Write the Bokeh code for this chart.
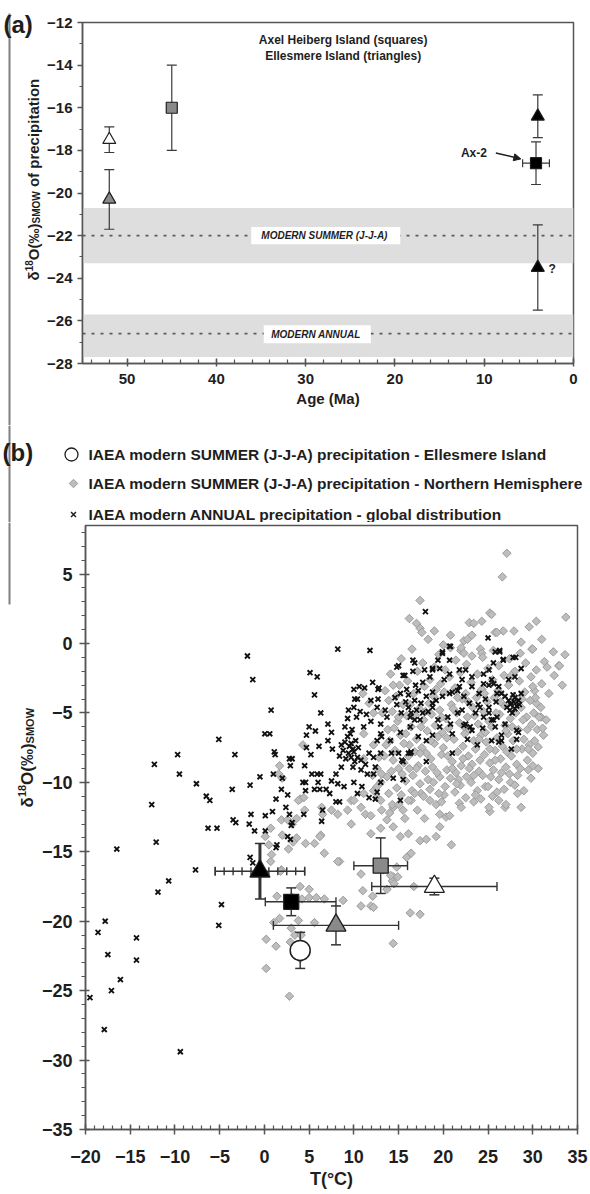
import math
from bokeh.plotting import figure
from bokeh.layouts import column, row
from bokeh.models import Range1d, FixedTicker, Label, Arrow, NormalHead, BoxAnnotation, Span
from bokeh.core.properties import value
from bokeh.embed import file_html
from bokeh.resources import INLINE

FONT = "Liberation Sans"
INK = "#1e1e1e"
AXIS = "#555555"
GREY_FILL = "#8a8a8a"
DIAMOND_FILL = "#bdbdbd"
DIAMOND_LINE = "#9c9c9c"
BAND = "#dedede"
EDGE = "#808080"

# ------------------------------------------------------------------ data (a)
a_series = ["Ellesmere open", "Ellesmere grey", "Axel Heiberg grey",
            "Ellesmere black", "Axel Heiberg Ax-2", "Ellesmere black ?"]
a_age = [52.0, 52.0, 45.0, 4.0, 4.2, 4.0]
a_d18o = [-17.5, -20.3, -16.0, -16.4, -18.6, -23.5]
a_d18o_err = [0.6, 1.4, 2.0, 1.0, 1.0, 2.0]
a_age_err = [0.0, 0.0, 0.0, 0.0, 1.5, 0.0]
modern_summer_mean = -22.0
modern_summer_range = (-23.3, -20.7)
modern_annual_mean = -26.6
modern_annual_range = (-27.7, -25.7)
a_x_ticks = [0, 10, 20, 30, 40, 50]
a_y_ticks = [-28, -26, -24, -22, -20, -18, -16, -14, -12]

# ------------------------------------------------------------------ data (b)
b_series = ["Ellesmere open", "Ellesmere grey", "Axel Heiberg grey",
            "Ellesmere black", "Axel Heiberg Ax-2"]
b_T = [19.0, 8.0, 13.0, -0.5, 3.0]
b_T_low = [12.0, 1.0, 10.0, -5.5, 0.1]
b_T_high = [26.0, 15.0, 16.0, 4.5, 8.0]
b_d18o = [-17.5, -20.3, -16.0, -16.4, -18.6]
b_d18o_err = [0.6, 1.4, 2.0, 2.0, 1.0]
b_black_tri_T_steps = [1, 2, 3, 4, 5]
ellesmere_modern_T = [4.0]
ellesmere_modern_d18o = [-22.1]
ellesmere_modern_err = [1.3]
b_x_ticks = [-20, -15, -10, -5, 0, 5, 10, 15, 20, 25, 30, 35]
b_y_ticks = [-35, -30, -25, -20, -15, -10, -5, 0, 5]

annual_cold = [
    (-19.5, -25.5), (-18.6, -20.8), (-17.8, -20.0), (-17.5, -22.4), (-17.1, -25.0),
    (-17.9, -27.8), (-16.1, -24.2), (-14.3, -21.2), (-14.3, -22.8), (-11.9, -17.9),
    (-10.7, -17.1), (-7.7, -16.3), (-9.4, -29.4), (-4.8, -18.8), (-5.1, -20.3),
    (-16.5, -14.8), (-12.1, -14.3), (-12.6, -11.6), (-12.3, -8.7), (-9.7, -8.0),
    (-9.5, -9.4), (-7.6, -10.1), (-6.5, -11.0), (-6.1, -11.3), (-6.3, -13.3),
    (-5.3, -13.3), (-5.1, -6.9), (-3.3, -8.0), (-3.6, -10.5), (-3.5, -12.7),
    (-3.2, -12.9), (-1.9, -0.9), (-1.3, -2.6), (-1.6, -10.2), (-1.5, -12.3),
    (-1.7, -13.0), (-1.1, -13.5), (-1.6, -15.4), (-1.3, -15.8), (-0.5, -9.6),
    (0.05, -6.5), (0.6, -6.5), (0.75, -4.8), (0.1, -13.5), (0.1, -12.4),
    (0.9, -12.1), (1.0, -9.4), (1.1, -7.8), (1.2, -8.0), (2.0, -9.7),
    (1.3, -11.2), (1.9, -10.5), (2.6, -10.9), (2.8, -8.3), (3.1, -8.3),
    (2.4, -11.8), (2.8, -12.3), (3.1, -12.9), (1.4, -14.5), (1.3, -14.7),
    (2.6, -13.9), (2.9, -14.1), (3.0, -13.1), (4.3, -10.0), (4.4, -12.3),
    (2.9, -8.8), (6.4, -12.8),
]
annual_mid = [
    (8.2, -0.4), (11.8, -0.5), (5.1, -2.1), (5.9, -2.4), (5.6, -3.7), (6.3, -5.0),
    (7.1, -5.8), (5.0, -6.0), (5.7, -6.3), (4.7, -6.6), (6.1, -7.4), (7.5, -6.4),
    (4.7, -7.5), (5.2, -8.0), (4.5, -8.8), (5.3, -9.4), (5.9, -9.4), (6.3, -9.4),
    (6.0, -10.0), (4.6, -10.0), (4.6, -10.6), (5.6, -10.5), (6.2, -10.5), (6.9, -10.5),
    (7.3, -10.8), (6.5, -12.0), (8.0, -11.4), (8.4, -11.4), (10.0, -3.3), (10.6, -3.1),
    (11.2, -3.2), (12.1, -2.8), (12.7, -3.3), (11.9, -4.1), (12.7, -4.0), (10.1, -4.0),
    (10.4, -4.0), (9.4, -4.8), (10.0, -4.6), (10.7, -4.9), (11.4, -5.1), (10.3, -5.3),
    (9.3, -5.4), (9.0, -6.0), (9.8, -6.2), (11.1, -6.0), (11.9, -5.6), (13.0, -6.5),
    (7.1, -7.0), (7.6, -7.6), (8.6, -7.3), (9.3, -6.7), (9.5, -7.4), (9.7, -7.2),
    (9.9, -7.6), (10.0, -7.8), (9.7, -8.2), (9.1, -8.3), (10.4, -8.2), (10.8, -8.4),
    (11.3, -8.7), (11.7, -7.9), (12.2, -8.2), (12.4, -8.9), (11.5, -9.4), (10.8, -9.1),
    (9.9, -8.9), (8.6, -8.9), (8.0, -9.4), (7.5, -9.9), (8.2, -10.1), (8.9, -10.3),
    (10.0, -10.0), (10.4, -10.8), (10.9, -10.3), (11.7, -11.1), (12.6, -10.7), (13.0, -10.0),
    (12.2, -9.4), (9.0, -7.1), (9.4, -7.9), (10.2, -7.0), (8.8, -7.7), (10.5, -7.5),
    (9.6, -6.5), (10.1, -8.5), (8.4, -8.1),
]
annual_warm = [
    (18.0, 2.3), (12.8, -3.2), (12.6, -4.6), (13.5, -4.8), (13.7, -5.3), (13.0, -5.8),
    (12.6, -7.0), (13.1, -6.7), (13.0, -7.9), (14.2, -7.9), (14.1, -7.0), (15.2, -6.4),
    (15.0, -7.9), (16.1, -7.9), (15.5, -8.5), (18.1, -8.5), (21.0, -7.9), (21.0, -6.5),
    (18.8, -6.6), (17.2, -6.7), (16.3, -6.0), (17.4, -5.5), (18.3, -4.9), (18.8, -4.6),
    (17.0, -4.8), (16.1, -4.6), (15.3, -5.0), (14.8, -4.4), (15.2, -3.6), (16.1, -3.7),
    (16.8, -4.1), (17.2, -3.4), (17.7, -2.8), (18.5, -2.4), (18.8, -1.9), (19.6, -1.8),
    (17.9, -1.9), (16.6, -1.2), (16.8, -1.4), (15.5, -2.3), (15.0, -1.6), (20.1, -2.6),
    (20.7, -2.2), (19.9, -0.6), (20.7, -0.2), (21.6, -3.4), (22.1, -2.6), (22.5, -1.9),
    (23.2, -2.4), (21.6, -5.0), (22.5, -5.8), (20.8, -5.8), (19.4, -5.5), (23.0, -6.0),
    (23.8, -7.3), (25.4, -7.0), (26.0, -5.3), (25.8, -6.0), (25.4, -5.5), (26.5, -7.0),
    (27.6, -7.6), (28.4, -6.4), (28.2, -6.9), (26.9, -3.8), (27.3, -4.1), (27.6, -4.3),
    (28.0, -4.7), (28.4, -4.1), (27.45, -4.8), (27.1, -4.6), (27.8, -3.7), (28.5, -4.4),
    (28.7, -3.6), (26.5, -3.6), (26.2, -3.1), (25.4, -2.6), (25.1, -1.9), (25.6, -1.4),
    (25.8, -0.6), (26.3, -0.6), (26.7, -1.2), (27.8, -1.0), (28.7, -1.8), (28.0, -2.4),
    (27.3, -2.6), (24.5, -2.9), (24.0, -3.6), (24.7, -4.0), (24.1, -4.6), (25.1, -5.0),
    (23.6, -5.0), (22.9, -4.3), (22.3, -3.8), (23.2, -3.1), (25.0, 0.4), (20.7, -3.6),
    (19.9, -3.8), (19.2, -4.1), (18.1, -3.8), (18.8, -3.5), (15.5, -9.8), (15.2, -11.3),
    (12.4, -11.2), (14.4, -9.7), (16.4, -7.8), (18.1, -7.0), (19.6, -6.0), (20.8, -0.2),
    (19.9, -0.7), (26.3, -0.5), (26.7, -1.15), (28.1, -1.0), (15.35, -8.4), (16.3, -7.9),
    (22.3, -5.9), (23.2, -6.25), (24.5, -2.2), (25.1, -3.0), (25.65, -2.9), (26.0, -3.6),
    (25.1, -4.6), (24.5, -5.3), (25.6, -5.5), (26.9, -5.8), (28.2, -6.25), (26.5, -6.6),
    (26.2, -7.1), (27.9, -4.2), (28.2, -4.5), (27.5, -4.4), (28.0, -3.9), (27.7, -5.0),
    (21.8, -3.1), (21.0, -3.5), (22.1, -4.8), (20.5, -5.3), (18.8, -4.3), (17.7, -5.0),
    (16.8, -5.5), (16.3, -5.3), (14.8, -1.7), (15.7, -2.3), (16.6, -2.0), (18.8, -1.8),
    (19.4, -1.2), (20.7, -1.2), (21.8, -1.9), (15.8, -4.2), (16.4, -5.0), (14.6, -3.9),
    (15.9, -3.3), (17.5, -4.3), (16.9, -3.0), (23.9, -4.4), (24.4, -6.1), (22.7, -6.9),
    (25.9, -4.2),
]

summer_nh_low = [
    (0.7, -13.3), (0.5, -14.5), (2.0, -13.8), (3.6, -14.0), (4.6, -14.4), (2.7, -14.8),
    (6.3, -13.8), (6.7, -15.1), (8.4, -15.7), (0.7, -15.7), (1.9, -16.3), (4.0, -17.5),
    (5.0, -17.7), (1.4, -18.2), (3.1, -18.3), (4.2, -18.4), (5.0, -18.3), (5.8, -18.3),
    (6.7, -18.4), (8.8, -18.5), (1.05, -20.1), (1.7, -19.8), (3.8, -19.95), (5.6, -20.1),
    (0.2, -21.3), (1.3, -21.8), (2.9, -21.5), (3.4, -21.0), (3.0, -20.5), (0.2, -23.4),
    (2.8, -25.4), (4.0, -22.7), (4.1, -21.0), (4.3, -7.3), (1.7, -8.8), (1.6, -9.4),
    (2.0, -9.7), (4.0, -11.2), (4.4, -11.1), (1.9, -12.7), (2.6, -12.7), (3.1, -13.0),
    (3.6, -12.6), (0.1, -13.9), (1.8, -16.4), (3.2, -14.3), (0.8, -15.2), (6.4, -11.8),
    (7.5, -12.0), (8.2, -12.3), (9.3, -12.0), (9.7, -11.3), (10.8, -11.8), (11.3, -12.3),
    (12.2, -10.6), (12.6, -11.1), (11.1, -6.5), (12.2, -7.3), (12.8, -8.2), (13.1, -9.4),
    (11.0, -3.6), (11.7, -4.3), (12.2, -5.0), (11.1, -8.3), (12.1, -9.5), (13.0, -10.0),
    (3.8, -11.3), (4.5, -12.0), (6.5, -12.3), (5.6, -14.4), (6.2, -13.9), (8.2, -15.7),
    (9.7, -13.0), (11.9, -12.4), (11.9, -13.7), (13.0, -13.3), (13.7, -12.7), (14.4, -13.2),
    (15.2, -13.9), (16.1, -13.7), (17.4, -14.2), (18.1, -14.1), (19.2, -13.9), (19.6, -13.2),
    (20.9, -14.5), (10.8, -16.6), (13.3, -16.3), (14.8, -16.1), (14.4, -16.8), (15.9, -15.4),
    (16.4, -15.1), (11.0, -17.8), (12.1, -18.2), (10.8, -18.9), (11.9, -18.9), (12.2, -19.0),
    (13.7, -17.7), (14.3, -17.1), (14.5, -17.3), (14.9, -16.8), (14.1, -16.7), (16.7, -17.5),
    (16.3, -19.4), (17.4, -19.5), (14.4, -21.6),
]
summer_nh_edge = [
    (10.0, -11.3), (11.1, -10.8), (12.6, -10.3), (13.1, -12.0), (14.4, -11.8), (15.5, -12.0),
    (16.4, -11.3), (17.5, -10.8), (18.5, -11.3), (19.6, -12.3), (20.1, -10.9), (21.8, -11.5),
    (23.4, -11.4), (25.2, -12.1), (24.7, -10.3), (26.2, -11.3), (27.5, -10.0), (28.7, -11.8),
    (29.8, -9.7), (29.5, -9.1), (30.6, -7.45), (30.9, -5.3), (30.4, -4.3), (30.2, -3.4),
    (31.3, -1.3), (32.9, -1.6), (33.6, -0.8), (33.3, -3.0), (29.6, 1.2), (30.4, 1.6),
    (33.7, 1.9), (28.7, 0.1), (29.9, -0.4), (25.8, 0.8), (26.7, 0.9), (22.9, 1.5),
    (23.4, 1.45), (24.3, 1.6), (25.2, 2.2), (25.4, 2.1), (17.4, 3.1), (17.0, 1.45),
    (17.4, 1.1), (17.6, 0.8), (27.1, 6.5), (26.6, 4.8), (30.0, -0.4), (33.0, -1.6),
    (22.3, 0.2), (23.2, 0.6), (24.15, -0.4), (24.3, -0.7), (26.0, 0.8), (20.0, -0.1),
    (20.8, -0.3), (21.95, -0.5), (22.3, -0.7), (25.1, -11.8), (20.3, -12.5), (30.0, -7.9),
    (31.2, -6.6), (30.6, -9.0), (28.3, -10.8), (26.9, -11.8),
]
summer_nh_core = [
    (13.5, -3.4), (13.8, -6.2), (13.4, -8.1), (13.7, -9.6), (13.9, -10.8),
    (14.1, -2.2), (14.3, -4.9), (14.0, -7.0), (14.4, -8.4), (14.2, -9.2), (14.3, -11.6),
    (14.7, -3.8), (14.9, -5.6), (14.6, -7.7), (15.0, -9.0), (14.8, -10.4),
    (15.3, -1.1), (15.5, -4.4), (15.2, -6.6), (15.6, -8.6), (15.4, -9.4), (15.3, -10.9), (15.7, -12.6),
    (16.0, -2.7), (15.9, -5.2), (16.2, -7.3), (16.1, -8.1), (15.8, -9.9), (16.1, -11.3),
    (16.5, -0.4), (16.7, -3.6), (16.4, -6.0), (16.8, -7.8), (16.6, -9.5), (16.5, -10.6),
    (17.1, -2.0), (17.3, -4.7), (17.0, -6.9), (17.2, -8.8), (17.4, -10.1), (17.1, -12.0),
    (17.7, -1.4), (17.9, -3.1), (17.8, -5.5), (17.6, -7.5), (18.0, -9.2), (17.8, -11.0),
    (18.3, 0.3), (18.5, -2.6), (18.4, -4.3), (18.2, -6.3), (18.6, -8.3), (18.3, -9.8), (18.5, -10.5),
    (19.0, -1.7), (18.9, -3.8), (19.1, -5.9), (19.0, -7.2), (18.8, -8.9), (19.2, -11.6),
    (19.5, -0.8), (19.7, -2.9), (19.6, -4.8), (19.4, -6.7), (19.8, -8.0), (19.6, -9.6), (19.5, -10.8),
    (20.2, -1.9), (20.1, -3.5), (20.3, -5.4), (20.0, -7.5), (20.4, -9.1), (20.2, -10.3),
    (20.8, 0.6), (20.7, -2.4), (20.9, -4.4), (20.6, -6.1), (21.0, -8.5), (20.8, -9.7), (20.7, -12.4),
    (21.4, -1.2), (21.3, -3.2), (21.5, -5.0), (21.2, -6.9), (21.6, -7.8), (21.4, -9.3), (21.3, -10.7),
    (22.0, -0.3), (21.9, -2.1), (22.1, -4.0), (21.8, -5.7), (22.2, -7.4), (22.0, -8.8), (21.9, -10.2),
    (22.6, -1.5), (22.5, -3.6), (22.7, -5.3), (22.4, -6.5), (22.8, -8.1), (22.6, -9.6), (22.5, -11.1),
    (23.2, -0.9), (23.1, -2.8), (23.3, -4.6), (23.0, -6.2), (23.4, -7.0), (23.2, -8.7), (23.1, -10.0),
    (23.8, -2.2), (23.7, -3.9), (23.9, -5.8), (23.6, -7.6), (24.0, -9.2), (23.8, -10.6),
    (24.4, -1.0), (24.3, -3.3), (24.5, -4.9), (24.2, -6.6), (24.6, -8.0), (24.4, -9.5),
    (25.0, -1.8), (24.9, -4.2), (25.1, -5.6), (24.8, -7.1), (25.2, -8.6), (25.0, -10.3),
    (25.6, -0.5), (25.5, -2.6), (25.7, -3.9), (25.4, -6.0), (25.8, -7.7), (25.6, -9.1), (25.5, -11.0),
    (26.2, -1.6), (26.1, -3.4), (26.3, -5.1), (26.0, -6.8), (26.4, -8.3), (26.2, -9.8),
    (26.8, -2.3), (26.7, -4.4), (26.9, -5.9), (26.6, -7.4), (27.0, -8.9), (26.8, -10.5),
    (27.4, -1.1), (27.3, -3.0), (27.5, -5.4), (27.2, -6.5), (27.6, -8.1), (27.4, -9.4),
    (28.0, -2.0), (27.9, -3.8), (28.1, -5.0), (27.8, -7.0), (28.2, -8.7), (28.0, -10.2),
    (28.6, -0.7), (28.5, -2.7), (28.7, -4.6), (28.4, -6.2), (28.8, -7.6), (28.6, -9.0),
    (29.2, -1.4), (29.1, -3.5), (29.3, -5.3), (29.0, -6.9), (29.4, -8.4),
    (29.8, -2.4), (29.7, -4.1), (29.9, -5.8), (29.6, -7.3), (30.0, -8.8),
    (30.4, -1.9), (30.3, -3.9), (30.5, -6.2), (30.2, -7.0),
    (31.0, -2.9), (30.9, -4.6), (31.1, -6.1), (31.6, -1.7), (31.5, -5.5), (32.4, -2.3),
    (13.2, -5.0), (14.5, -6.1), (15.1, -3.0), (15.8, -6.5), (16.3, -4.4), (17.0, -9.0),
    (17.5, -6.0), (18.1, -7.9), (18.7, -5.1), (19.3, -9.3), (19.9, -6.4), (20.5, -8.1),
    (21.1, -4.7), (21.7, -9.8), (22.3, -6.0), (22.9, -9.0), (23.5, -5.2), (24.1, -8.4),
    (24.7, -6.4), (25.3, -9.6), (25.9, -5.0), (26.5, -9.3), (27.1, -7.8), (27.7, -6.0),
    (28.3, -9.5), (28.9, -5.5), (29.5, -7.6), (30.1, -5.0), (24.2, -11.2), (22.0, -11.8),
    (19.8, -11.4), (17.9, -12.6), (27.0, -11.6), (29.0, -10.6),
    (13.9, -4.1), (14.4, -3.0), (15.0, -5.3), (15.6, -7.2), (16.2, -9.0), (16.9, -5.2),
    (17.4, -7.9), (18.0, -4.9), (18.6, -7.0), (19.2, -3.3), (19.8, -5.3), (20.4, -6.8),
    (21.0, -9.0), (21.6, -3.9), (22.2, -8.3), (22.8, -4.2), (23.4, -9.5), (24.0, -6.9),
    (24.6, -3.6), (25.2, -7.6), (25.8, -8.4), (26.4, -4.2), (27.0, -6.3), (27.6, -2.3),
    (28.2, -7.6), (28.8, -4.0), (29.4, -6.2), (30.0, -3.1), (30.7, -5.3), (21.5, -10.1),
    (23.6, -10.9), (26.0, -10.7), (18.9, -10.0), (16.8, -10.8), (15.0, -11.6), (14.0, -12.2),
    (13.0, -11.3), (12.6, -9.0), (13.6, -7.3), (31.8, -3.6), (32.3, -0.6), (31.0, 0.3),
    (27.9, 0.9), (22.7, 0.3), (19.0, 0.9), (16.2, 1.8),
]

legend_labels = [
    "IAEA modern SUMMER (J-J-A) precipitation - Ellesmere Island",
    "IAEA modern SUMMER (J-J-A) precipitation - Northern Hemisphere",
    "IAEA modern ANNUAL precipitation - global distribution",
]

annual_pts = annual_cold + annual_mid + annual_warm
summer_pts = summer_nh_low + summer_nh_edge + summer_nh_core
annual_T = [p[0] for p in annual_pts]
annual_d18o = [p[1] for p in annual_pts]
summer_nh_T = [p[0] for p in summer_pts]
summer_nh_d18o = [p[1] for p in summer_pts]

STYLE = {
    "Ellesmere open": ("triangle", "white"),
    "Ellesmere grey": ("triangle", GREY_FILL),
    "Axel Heiberg grey": ("square", GREY_FILL),
    "Ellesmere black": ("triangle", "black"),
    "Axel Heiberg Ax-2": ("square", "black"),
    "Ellesmere black ?": ("triangle", "black"),
}


def style_axes(p, tick_px):
    for ax in (p.xaxis[0], p.yaxis[0]):
        ax.axis_line_color = AXIS
        ax.axis_line_width = 1.5
        ax.major_tick_line_color = AXIS
        ax.major_tick_line_width = 1.5
        ax.minor_tick_line_color = AXIS
        ax.minor_tick_line_width = 1.2
        ax.major_label_text_font = FONT
        ax.major_label_text_font_style = "bold"
        ax.major_label_text_font_size = tick_px
        ax.major_label_text_color = INK
        ax.axis_label_text_font = FONT
        ax.axis_label_text_font_style = "bold"
        ax.axis_label_text_color = INK
    p.grid.visible = False
    p.outline_line_color = AXIS
    p.outline_line_width = 1.5
    p.background_fill_color = "white"
    p.border_fill_color = "white"


def strip(w, h):
    s = figure(width=w, height=h, x_range=Range1d(0, w), y_range=Range1d(0, h),
               x_axis_type=None, y_axis_type=None, output_backend="svg",
               toolbar_location=None, min_border=0, frame_align=False)
    s.outline_line_color = None
    s.grid.visible = False
    s.background_fill_color = "white"
    s.border_fill_color = "white"
    return s


def rotated(s, xs, ys, texts, size):
    s.text(x=xs, y=ys, text=texts, angle=math.pi / 2, text_font=value(FONT),
           text_font_style="bold", text_font_size=size, text_color=INK,
           text_align="left", text_baseline="alphabetic")


# ================================================================== panel (a)
p1 = figure(width=546, height=425, x_range=Range1d(55, 0), y_range=Range1d(-28, -12),
            output_backend="svg", toolbar_location=None, frame_align=False,
            min_border_left=34, min_border_right=17, min_border_top=22, min_border_bottom=62)
style_axes(p1, "15px")
p1.xaxis.ticker = FixedTicker(ticks=a_x_ticks, minor_ticks=list(range(0, 56, 2)))
p1.yaxis.ticker = FixedTicker(ticks=a_y_ticks, minor_ticks=list(range(-28, -11)))
p1.xaxis.major_tick_in = 5
p1.xaxis.major_tick_out = 3
p1.xaxis.minor_tick_in = 4
p1.xaxis.minor_tick_out = 0
p1.xaxis.major_label_standoff = 7
p1.xaxis.axis_label = "Age (Ma)"
p1.xaxis.axis_label_text_font_size = "15px"
p1.xaxis.axis_label_standoff = 3
p1.yaxis.major_tick_in = 0
p1.yaxis.major_tick_out = 5
p1.yaxis.minor_tick_in = 0
p1.yaxis.minor_tick_out = 3
p1.yaxis.major_label_standoff = 5

for lo, hi in (modern_summer_range, modern_annual_range):
    p1.add_layout(BoxAnnotation(bottom=lo, top=hi, fill_color=BAND, fill_alpha=1.0,
                                line_color=None, level="underlay"))
for m in (modern_summer_mean, modern_annual_mean):
    p1.add_layout(Span(location=m, dimension="width", line_color="#5a5a5a",
                       line_dash="3 6", line_width=1.6, level="underlay"))

p1.quad(left=[36.1, 34.7], right=[19.4, 22.7],
        bottom=[modern_summer_mean - 0.4, modern_annual_mean - 0.45],
        top=[modern_summer_mean + 0.4, modern_annual_mean + 0.4],
        fill_color="white", line_color=None)
p1.text(x=[27.75, 28.7], y=[modern_summer_mean, modern_annual_mean - 0.02],
        text=["MODERN  SUMMER (J-J-A)", "MODERN  ANNUAL"],
        text_font=value(FONT), text_font_style="bold italic", text_font_size="10px",
        text_color=INK, text_align="center", text_baseline="middle")

ERR = "#3a3a3a"
lo_a = [d - e for d, e in zip(a_d18o, a_d18o_err)]
hi_a = [d + e for d, e in zip(a_d18o, a_d18o_err)]
p1.segment(x0=a_age, y0=lo_a, x1=a_age, y1=hi_a, line_color=ERR, line_width=1.2)
p1.scatter(x=a_age + a_age, y=lo_a + hi_a, marker="dash", size=10, line_color=ERR, line_width=1.2)
hx = [i for i, e in enumerate(a_age_err) if e > 0]
hx_lo = [a_age[i] - a_age_err[i] for i in hx]
hx_hi = [a_age[i] + a_age_err[i] for i in hx]
hx_y = [a_d18o[i] for i in hx]
p1.segment(x0=hx_lo, y0=hx_y, x1=hx_hi, y1=hx_y, line_color=ERR, line_width=1.2)
p1.scatter(x=hx_lo + hx_hi, y=hx_y + hx_y, marker="dash", angle=math.pi / 2, size=8,
           line_color=ERR, line_width=1.2)

for i, name in enumerate(a_series):
    mk, fc = STYLE[name]
    p1.scatter(x=[a_age[i]], y=[a_d18o[i]], marker=mk, size=(13 if mk == "triangle" else 11),
               fill_color=fc, line_color=INK, line_width=1.2)

p1.text(x=[25.8, 25.8], y=[-12.8, -13.55],
        text=["Axel Heiberg Island (squares)", "Ellesmere Island (triangles)"],
        text_font=value(FONT), text_font_style="bold", text_font_size="12px",
        text_color=INK, text_align="center", text_baseline="middle")
p1.add_layout(Label(x=9.7, y=-18.1, text="Ax-2", text_font=FONT, text_font_style="bold",
                    text_font_size="12px", text_color=INK, text_align="right",
                    text_baseline="middle"))
p1.add_layout(Arrow(end=NormalHead(size=7, fill_color=INK, line_color=INK),
                    x_start=8.7, y_start=-18.12, x_end=5.9, y_end=-18.4,
                    line_color=INK, line_width=1.5))
p1.add_layout(Label(x=2.4, y=-23.55, text="?", text_font=FONT, text_font_style="bold",
                    text_font_size="12px", text_color=INK, text_align="center",
                    text_baseline="middle"))

# left strip of (a): page edge line, panel letter and y-axis title
sa = strip(44, 425)
sa.segment(x0=[9], y0=[0], x1=[9], y1=[412], line_color=EDGE, line_width=2)
sa.text(x=[3], y=[401], text=["(a)"], text_font=value(FONT), text_font_style="bold",
        text_font_size="24px", text_color=INK, text_align="left", text_baseline="middle")
rotated(sa, [33, 33, 33], [145, 165.3, 238.4], ["\u03b4", "O(\u2030)", "of precipitation"], "15px")
rotated(sa, [28], [154.2], ["18"], "10px")
rotated(sa, [35.5], [202.0], ["SMOW"], "10px")

# ================================================================== legend strip
pl = strip(590, 97)
pl.segment(x0=[9], y0=[0], x1=[9], y1=[97], line_color=EDGE, line_width=2)
pl.scatter(x=[71], y=[68], marker="circle", size=13, fill_color="white",
           line_color=INK, line_width=1.3)
pl.scatter(x=[73], y=[39], marker="square", angle=math.pi / 4, size=6,
           fill_color=DIAMOND_FILL, line_color=DIAMOND_LINE, line_width=1)
pl.scatter(x=[73], y=[8], marker="x", size=7, line_color=INK, line_width=1.5)
pl.text(x=[88, 88, 88], y=[68, 39, 8], text=legend_labels,
        text_font=value(FONT), text_font_style="bold", text_font_size="15.5px",
        text_color=INK, text_align="left", text_baseline="middle")
pl.text(x=[2], y=[70], text=["(b)"], text_font=value(FONT), text_font_style="bold",
        text_font_size="24px", text_color=INK, text_align="left", text_baseline="middle")

# ================================================================== panel (b)
p2 = figure(width=552, height=672, x_range=Range1d(-20, 35), y_range=Range1d(-35, 8.5),
            output_backend="svg", toolbar_location=None, frame_align=False,
            min_border_left=39, min_border_right=13, min_border_top=3, min_border_bottom=65)
style_axes(p2, "18px")
p2.xaxis.ticker = FixedTicker(ticks=b_x_ticks, minor_ticks=list(range(-20, 36)))
p2.yaxis.ticker = FixedTicker(ticks=b_y_ticks, minor_ticks=list(range(-35, 9)))
p2.xaxis.major_tick_in = 5
p2.xaxis.major_tick_out = 5
p2.xaxis.minor_tick_in = 4
p2.xaxis.minor_tick_out = 0
p2.xaxis.major_label_standoff = 15
p2.xaxis.axis_label = "T(\u00b0C)"
p2.xaxis.axis_label_text_font_size = "18px"
p2.xaxis.axis_label_standoff = 3
p2.yaxis.major_tick_in = 4
p2.yaxis.major_tick_out = 6
p2.yaxis.minor_tick_in = 0
p2.yaxis.minor_tick_out = 4
p2.yaxis.major_label_standoff = 7

p2.scatter(x=summer_nh_T, y=summer_nh_d18o, marker="square", angle=math.pi / 4, size=6,
           fill_color=DIAMOND_FILL, line_color=DIAMOND_LINE, line_width=1)
p2.scatter(x=annual_T, y=annual_d18o, marker="x", size=7, line_color="#111111", line_width=1.9)

ERR2 = "#333333"
hy = b_d18o
p2.segment(x0=b_T_low, y0=hy, x1=b_T_high, y1=hy, line_color=ERR2, line_width=1.4)
p2.scatter(x=b_T_low + b_T_high, y=hy + hy, marker="dash", angle=math.pi / 2, size=9,
           line_color=ERR2, line_width=1.4)
ib = b_series.index("Ellesmere black")
cap_x = [b_T[ib] - s for s in b_black_tri_T_steps] + [b_T[ib] + s for s in b_black_tri_T_steps]
p2.scatter(x=cap_x, y=[b_d18o[ib]] * len(cap_x), marker="dash", angle=math.pi / 2, size=8,
           line_color=ERR2, line_width=1.4)
lo_b = [d - e for d, e in zip(b_d18o, b_d18o_err)]
hi_b = [d + e for d, e in zip(b_d18o, b_d18o_err)]
widths = [3.0 if n == "Ellesmere black" else 1.4 for n in b_series]
p2.segment(x0=b_T, y0=lo_b, x1=b_T, y1=hi_b, line_color=ERR2, line_width=widths)
p2.scatter(x=b_T + b_T, y=lo_b + hi_b, marker="dash", size=10, line_color=ERR2, line_width=1.5)
em_lo = [d - e for d, e in zip(ellesmere_modern_d18o, ellesmere_modern_err)]
em_hi = [d + e for d, e in zip(ellesmere_modern_d18o, ellesmere_modern_err)]
p2.segment(x0=ellesmere_modern_T, y0=em_lo, x1=ellesmere_modern_T, y1=em_hi,
           line_color=ERR2, line_width=1.4)
p2.scatter(x=ellesmere_modern_T * 2, y=em_lo + em_hi, marker="dash", size=10,
           line_color=ERR2, line_width=1.5)

for i, name in enumerate(b_series):
    mk, fc = STYLE[name]
    p2.scatter(x=[b_T[i]], y=[b_d18o[i]], marker=mk, size=(20 if mk == "triangle" else 15),
               fill_color=fc, line_color=INK, line_width=1.3)
p2.scatter(x=ellesmere_modern_T, y=ellesmere_modern_d18o, marker="circle", size=20,
           fill_color="white", line_color=INK, line_width=1.5)

# left strip of (b): page edge line and y-axis title
sb = strip(38, 672)
sb.segment(x0=[9], y0=[590], x1=[9], y1=[672], line_color=EDGE, line_width=2)
rotated(sb, [27, 27], [387, 409.6], ["\u03b4", "O(\u2030)"], "17px")
rotated(sb, [21], [397.4], ["18"], "11px")
rotated(sb, [29.5], [451.1], ["SMOW"], "11px")

layout = column(row(sa, p1, spacing=0), pl, row(sb, p2, spacing=0), spacing=0)
open("out.html", "w").write(file_html(layout, INLINE))
